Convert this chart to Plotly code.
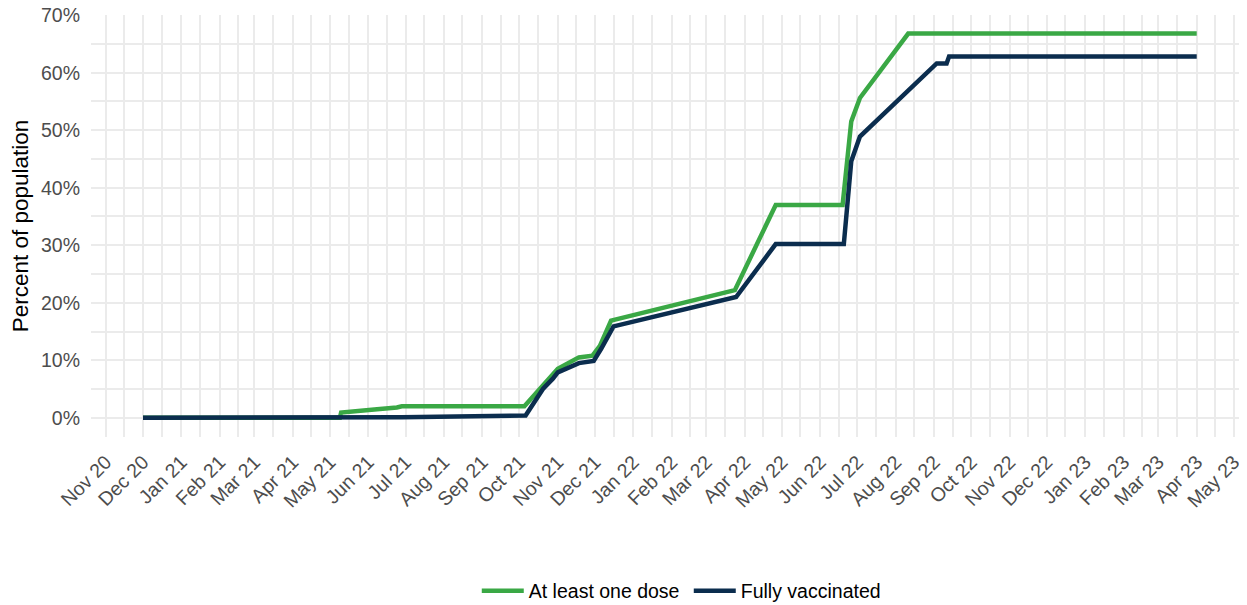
import plotly.graph_objects as go

# ---- data ----
dose1_dates = ["2020-12-01", "2021-05-09", "2021-05-10", "2021-05-25", "2021-06-08",
               "2021-06-24", "2021-06-28", "2021-10-05", "2021-10-20", "2021-11-01",
               "2021-11-18", "2021-11-29", "2021-12-05", "2021-12-14", "2022-03-24",
               "2022-04-26", "2022-06-19", "2022-06-26", "2022-07-03", "2022-08-11",
               "2023-04-01"]
dose1_values = [0, 0, 0.9, 1.3, 1.5, 1.8, 2.0, 2.0, 5.6, 8.5, 10.5, 10.8, 12.5, 16.9,
                22.2, 37.0, 37.0, 51.5, 55.6, 66.8, 66.8]

full_dates = ["2020-12-01", "2021-06-28", "2021-10-06", "2021-10-20", "2021-10-28",
              "2021-11-01", "2021-11-18", "2021-11-30", "2021-12-06", "2021-12-16",
              "2022-03-25", "2022-04-26", "2022-06-20", "2022-06-26", "2022-07-03",
              "2022-09-03", "2022-09-11", "2022-09-13", "2023-04-01"]
full_values = [0, 0.1, 0.4, 5.0, 6.8, 7.9, 9.5, 9.9, 12.0, 15.9, 21.0, 30.2, 30.2,
               44.6, 48.9, 61.6, 61.6, 62.8, 62.8]

series_names = ["At least one dose", "Fully vaccinated"]
y_tick_values = [0, 10, 20, 30, 40, 50, 60, 70]
y_tick_labels = ["0%", "10%", "20%", "30%", "40%", "50%", "60%", "70%"]

GREEN = "#3AA845"
NAVY = "#0B2D4E"
FONT = "Liberation Sans, Arial, sans-serif"

fig = go.Figure()
fig.add_trace(go.Scatter(x=dose1_dates, y=dose1_values, mode="lines",
                         name=series_names[0],
                         line=dict(color=GREEN, width=4.5)))
fig.add_trace(go.Scatter(x=full_dates, y=full_values, mode="lines",
                         name=series_names[1],
                         line=dict(color=NAVY, width=4.5)))

# page body has an 8px default margin, so the figure is sized/placed to compensate
fig.update_layout(
    width=1239, height=597,
    margin=dict(l=83, r=2, t=7, b=167.5, autoexpand=False),
    paper_bgcolor="white", plot_bgcolor="white",
    font=dict(family=FONT, size=19.5, color="#000000"),
    showlegend=True,
    legend=dict(orientation="h", xanchor="center", x=0.518,
                yanchor="middle", y=-0.365,
                font=dict(size=19.5, color="#000000"),
                itemwidth=42, entrywidth=155, tracegroupgap=0),
)

fig.update_xaxes(
    type="date",
    range=["2020-10-20", "2023-05-10"],
    dtick="M1", tick0="2020-11-01",
    tickformat="%b %y", tickangle=-45,
    tickfont=dict(size=19.5, color="#4D4D4D", family=FONT),
    showgrid=True, gridcolor="#EBEBEB", gridwidth=2,
    minor=dict(dtick="M1", tick0="2020-10-16", showgrid=True,
               gridcolor="#EBEBEB", gridwidth=1.5),
    zeroline=False, showline=False, ticks="",
    ticklabelstandoff=9,
    ticklabeloverflow="allow",
)

fig.update_yaxes(
    range=[-3.34, 70.03],
    tickmode="array", tickvals=y_tick_values, ticktext=y_tick_labels,
    tickfont=dict(size=19.5, color="#4D4D4D", family=FONT),
    showgrid=True, gridcolor="#EBEBEB", gridwidth=2,
    minor=dict(dtick=5, tick0=0, showgrid=True, gridcolor="#EBEBEB", gridwidth=1.5),
    zeroline=False, showline=False, ticks="",
    ticklabelstandoff=10,
    ticklabeloverflow="allow",
    title=dict(text="Percent of population",
               font=dict(size=22.5, color="#000000", family=FONT),
               standoff=6),
)

fig.write_html("out.html")
